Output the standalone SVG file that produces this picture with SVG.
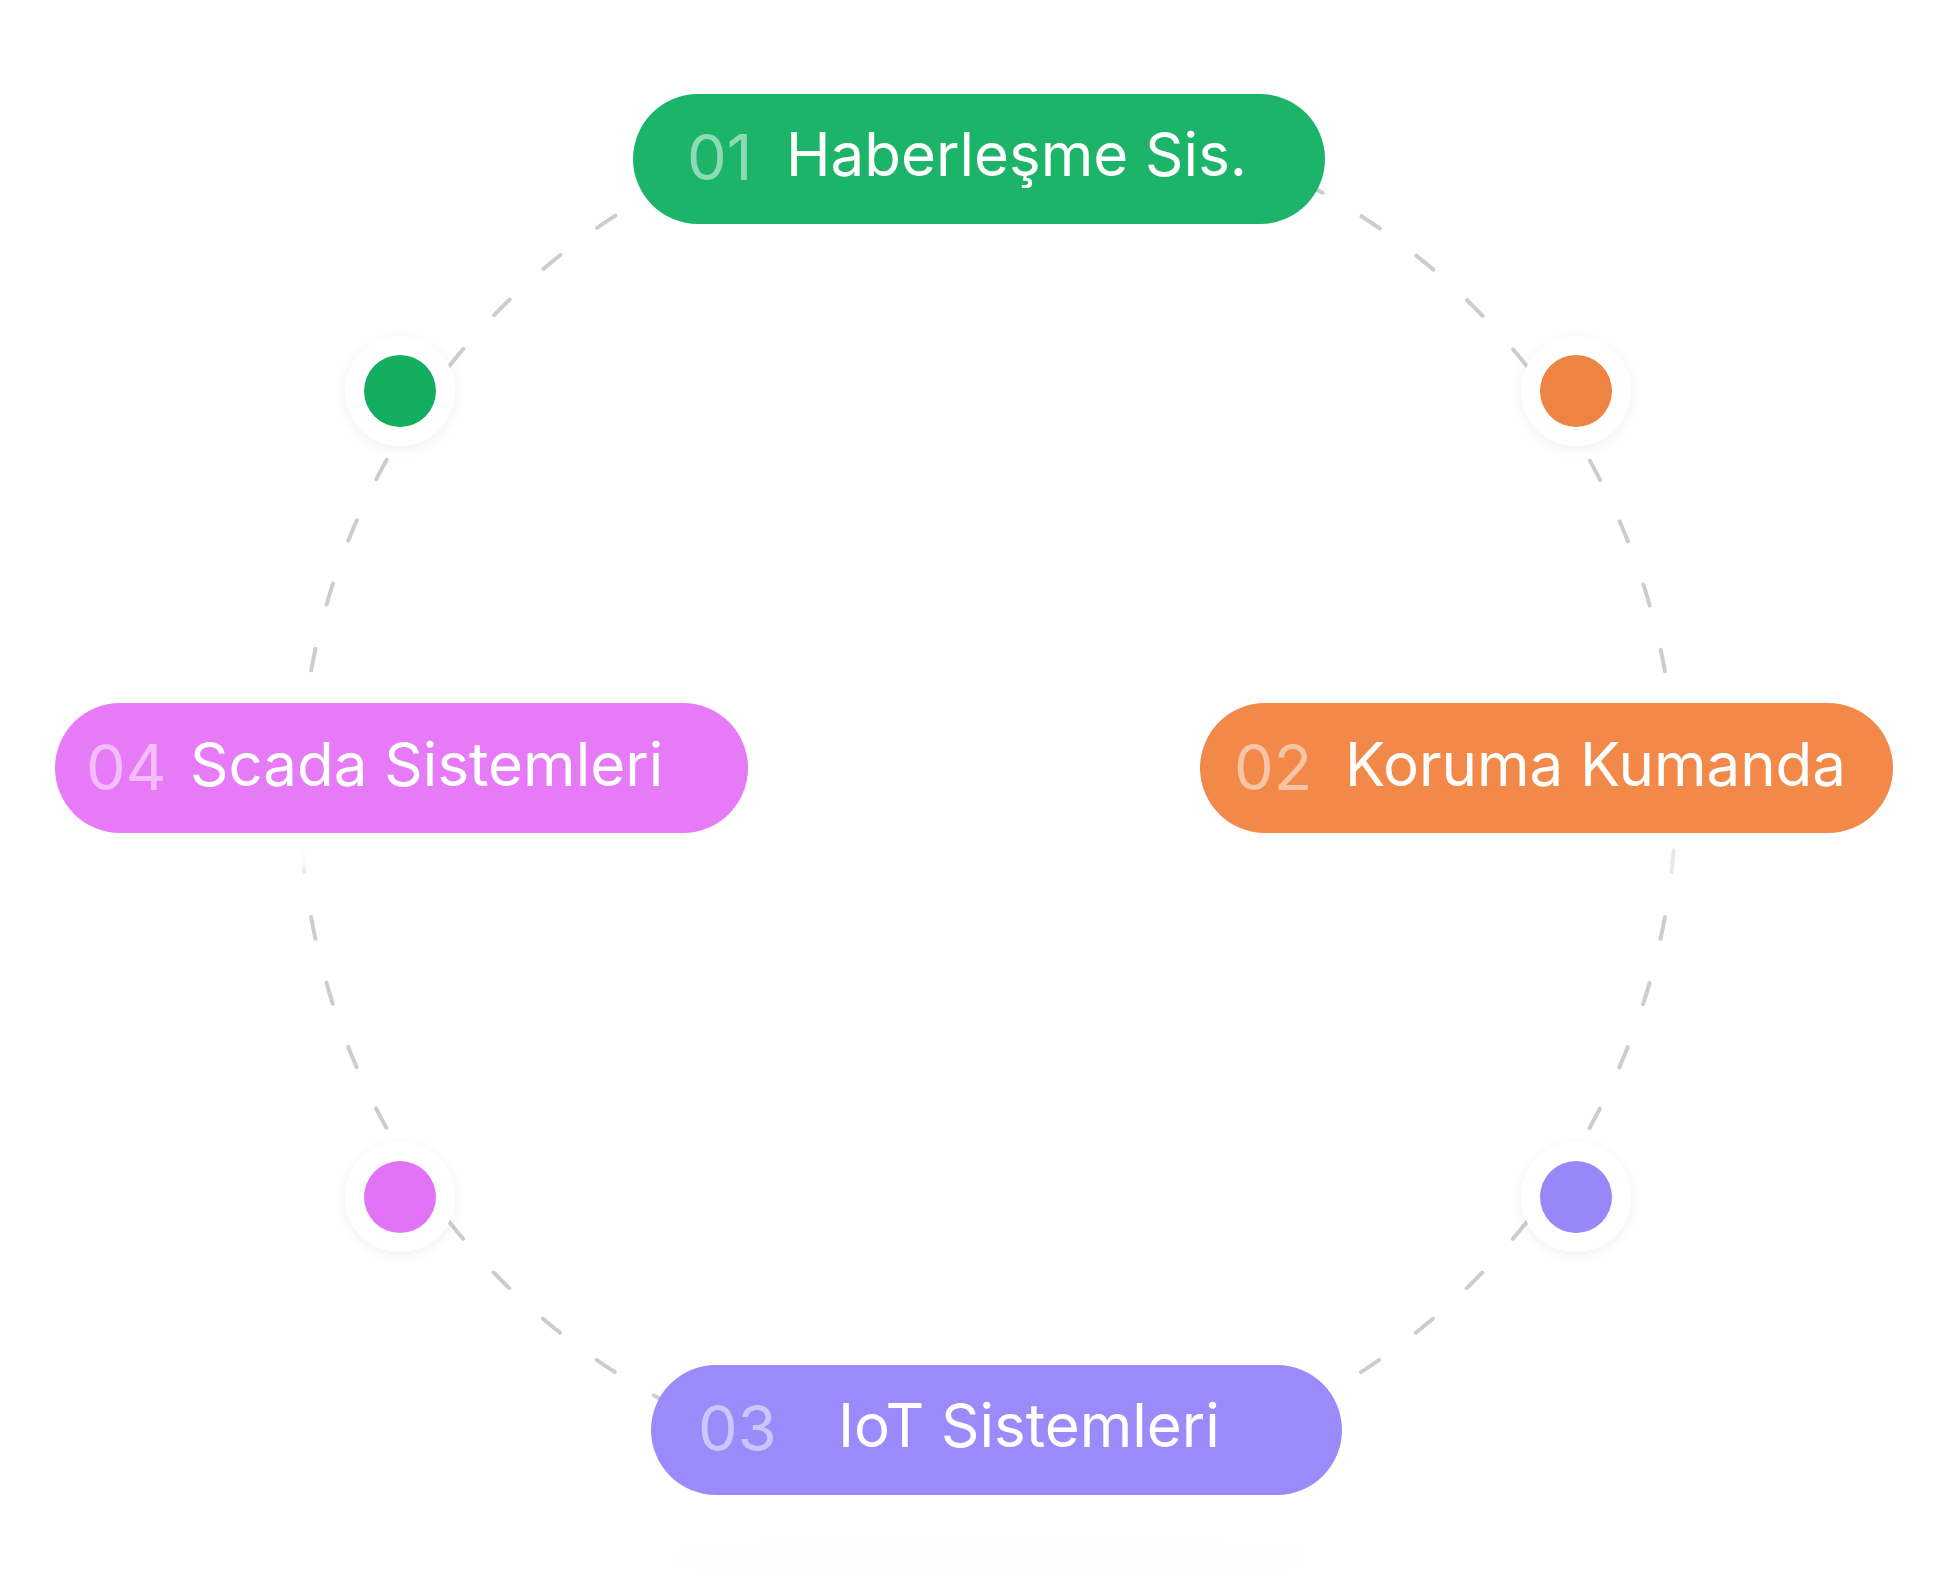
<svg xmlns="http://www.w3.org/2000/svg" width="1958" height="1589" viewBox="0 0 1958 1589">
  <defs>
    <filter id="halo" x="-50%" y="-50%" width="200%" height="200%">
      <feDropShadow dx="0" dy="3" stdDeviation="6" flood-color="#000" flood-opacity="0.06"/>
    </filter>
    <filter id="ghost" x="-20%" y="-200%" width="140%" height="500%">
      <feGaussianBlur stdDeviation="8"/>
    </filter>
    <linearGradient id="fadeDown" x1="0" y1="0" x2="0" y2="1">
      <stop offset="0" stop-color="#fff" stop-opacity="1"/>
      <stop offset="0.6" stop-color="#fff" stop-opacity="0.9"/>
      <stop offset="1" stop-color="#fff" stop-opacity="0"/>
    </linearGradient>
  </defs>
  <style>
    .ring { fill: none; stroke: #cdcdcd; stroke-width: 4; stroke-linecap: round; stroke-dasharray: 22 45.55; stroke-dashoffset: 11.1; }
    .halo { fill: #ffffff; filter: url(#halo); }
    .num { font-family: Inter, "Liberation Sans", sans-serif; font-weight: 400; font-size: 63px; fill: #ffffff; fill-opacity: 0.5; }
    .lbl { font-family: Inter, "Liberation Sans", sans-serif; font-weight: 400; font-size: 60px; fill: #ffffff; }
  </style>
  <rect width="1958" height="1589" fill="#ffffff"/>

  <ellipse cx="990" cy="1558" rx="320" ry="12" fill="#000" fill-opacity="0.012" filter="url(#ghost)"/>

  <g id="connectors">
    <path class="ring" d="M1676 794 A688 688 0 1 1 300 794 A688 688 0 1 1 1676 794"/>
  </g>

  <rect x="285" y="833" width="40" height="52" fill="url(#fadeDown)"/>
  <rect x="1660" y="833" width="40" height="50" fill="#fff" fill-opacity="0.55"/>

  <g id="dot-01">
    <circle class="halo" cx="400" cy="391" r="55"/>
    <circle cx="400" cy="391" r="36" fill="#13ae60"/>
  </g>
  <g id="dot-02">
    <circle class="halo" cx="1576" cy="391" r="55"/>
    <circle cx="1576" cy="391" r="36" fill="#ee8443"/>
  </g>
  <g id="dot-03">
    <circle class="halo" cx="1576" cy="1197" r="55"/>
    <circle cx="1576" cy="1197" r="36" fill="#9787f8"/>
  </g>
  <g id="dot-04">
    <circle class="halo" cx="400" cy="1197" r="55"/>
    <circle cx="400" cy="1197" r="36" fill="#e174f6"/>
  </g>

  <g id="node-01">
    <rect x="633" y="94" width="692" height="130" rx="65" fill="#1bb468"/>
    <text class="num" x="687" y="180">01</text>
    <text class="lbl" x="786" y="176">Haberleşme Sis.</text>
  </g>
  <g id="node-02">
    <rect x="1200" y="703" width="693" height="130" rx="65" fill="#f28948"/>
    <text class="num" x="1234" y="790">02</text>
    <text class="lbl" x="1345" y="786">Koruma Kumanda</text>
  </g>
  <g id="node-03">
    <rect x="651" y="1365" width="691" height="130" rx="65" fill="#9b8bfa"/>
    <text class="num" x="698" y="1451">03</text>
    <text class="lbl" x="838" y="1447">IoT Sistemleri</text>
  </g>
  <g id="node-04">
    <rect x="55" y="703" width="693" height="130" rx="65" fill="#e67af7"/>
    <text class="num" x="86" y="790">04</text>
    <text class="lbl" x="190" y="786">Scada Sistemleri</text>
  </g>
</svg>
